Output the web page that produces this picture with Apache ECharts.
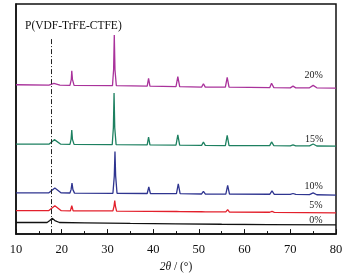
<!DOCTYPE html>
<html><head><meta charset="utf-8">
<script src="https://cdn.jsdelivr.net/npm/echarts@6/dist/echarts.min.js"></script>
<style>html,body{margin:0;padding:0;background:#fff}#c{width:352px;height:278px}</style>
</head><body><div id="c"></div>
<script>
// 2θ (degrees) vs. stacked intensity (offset, arbitrary units)
const xTicks = [10, 20, 30, 40, 50, 60, 70, 80];
const seriesNames = ['20%', '15%', '10%', '5%', '0%'];
const s20 = [[10,154.5],[17.2,154],[18.3,155.8],[19.6,154],[21.8,153.8],[22.1,160],[22.2,169],[22.35,160],[22.7,153.8],[31.1,153.5],[31.35,170],[31.5,206],[31.65,170],[31.95,153.5],[38.7,153],[39.0,161],[39.3,153],[45.0,152.5],[45.4,163],[45.8,152.5],[50.6,152],[51.0,155.5],[51.4,152],[55.8,152],[56.2,162],[56.6,152],[65.5,151.5],[65.9,156],[66.4,151.5],[70.0,151.3],[70.6,153],[71.2,151.3],[74.2,151.3],[75.0,153.8],[75.8,151.3],[80,151]];
const s15 = [[10,93],[17.2,93],[18.4,97.7],[19.8,93],[21.8,92.8],[22.05,98],[22.2,107.7],[22.35,98],[22.7,92.8],[31.05,92.5],[31.3,110],[31.45,146],[31.6,110],[31.9,92.5],[38.7,92.3],[39.0,100.3],[39.3,92.3],[45.0,92],[45.4,102.7],[45.8,92],[50.6,91.8],[51.0,95.3],[51.4,91.8],[55.8,91.6],[56.2,102],[56.6,91.6],[65.5,91.5],[65.9,95.3],[66.4,91.5],[70.0,91.3],[70.6,92.3],[71.2,91.3],[74.2,91.2],[75.0,93.2],[75.8,91.1],[80,91]];
const s10 = [[10,42.7],[17.2,42.7],[18.5,47.7],[19.9,42.6],[21.8,42.5],[22.05,46],[22.25,52.7],[22.45,46],[22.8,42.4],[31.2,42.2],[31.5,60],[31.65,85.3],[31.8,60],[32.1,42.2],[38.7,42],[39.05,48.7],[39.4,42],[45.1,41.8],[45.5,52],[45.9,41.8],[50.6,41.5],[51.0,44.3],[51.4,41.5],[55.9,41.4],[56.3,50.3],[56.7,41.4],[65.5,41.2],[66.0,44.7],[66.5,41.2],[70.0,41],[70.6,42],[71.2,41],[74.2,40.8],[75.0,42.6],[75.8,40.7],[80,40.4]];
const s5 = [[10,24.3],[17.2,24.3],[18.5,29.3],[19.9,24.2],[21.9,24.1],[22.2,29.3],[22.5,24.1],[31.2,24],[31.45,29],[31.6,34.7],[31.75,29],[32.0,23.8],[38.8,23.6],[39.05,25.6],[39.3,23.5],[45.1,23.4],[45.5,25.4],[45.9,23.3],[50.6,23.1],[51.0,23.8],[51.4,23],[55.9,22.9],[56.3,25.3],[56.7,22.8],[65.5,22.6],[66.0,23.6],[66.5,22.5],[80,22]];
const s0 = [[10,12],[16.8,12],[17.4,14],[17.9,16.3],[18.5,14],[19.5,12],[25,11.6],[35,11],[45,10.6],[55,10.2],[65,9.9],[80,9.5]];
const labelPos = [[75.1,164],[75.2,98],[75.1,49.3],[75.6,29.3],[75.6,14.7]];
const refLine = 17.8;
const titleText = 'P(VDF-TrFE-CTFE)';

const colors = ['#a9329b', '#1d8060', '#2f3590', '#e3202c', '#111111'];
const serif = '"Liberation Serif","DejaVu Serif",serif';
const allData = [s20, s15, s10, s5, s0];

const chart = echarts.init(document.getElementById('c'), null, {renderer: 'canvas'});
const series = allData.map((d, i) => ({
  name: seriesNames[i], type: 'line', data: d, symbol: 'none', smooth: false,
  lineStyle: {color: colors[i], width: 1.3}, itemStyle: {color: colors[i]},
  silent: true, animation: false,
  markPoint: {
    symbol: 'circle', symbolSize: 0,
    data: [{coord: labelPos[i], value: seriesNames[i]}],
    label: {show: true, position: 'inside', formatter: seriesNames[i], color: '#222', fontFamily: serif, fontSize: 10}
  },
  markLine: i === 4 ? {
    symbol: 'none', silent: true, label: {show: false},
    lineStyle: {color: '#222', width: 1, type: [5, 2, 1, 2]},
    data: [[{coord: [refLine, 0]}, {coord: [refLine, 202]}]]
  } : undefined
}));

chart.setOption({
  animation: false,
  backgroundColor: '#fff',
  title: {text: titleText, left: 20, top: 15, textStyle: {fontFamily: serif, fontSize: 11.5, fontWeight: 'normal', color: '#111'}},
  grid: {left: 16, right: 16, top: 4, bottom: 36, show: true, borderColor: '#111', borderWidth: 1.5, backgroundColor: 'transparent'},
  xAxis: {
    type: 'value', min: 10, max: 80, interval: 10,
    axisLine: {show: true, lineStyle: {color: '#111', width: 1.5}},
    axisTick: {show: true, inside: true, length: 5, lineStyle: {color: '#111', width: 1}},
    minorTick: {show: true, splitNumber: 2, length: 3, lineStyle: {color: '#111', width: 1}},
    splitLine: {show: false},
    axisLabel: {margin: 9, fontFamily: serif, fontSize: 12.5, color: '#111', formatter: v => xTicks.includes(v) ? String(v) : ''},
    name: '{i|2θ} / (°)', nameLocation: 'middle', nameGap: 26,
    nameTextStyle: {fontFamily: serif, fontSize: 11.5, color: '#111', rich: {i: {fontStyle: 'italic', fontFamily: serif, fontSize: 11.5, color: '#111'}}}
  },
  yAxis: {
    type: 'value', min: 0, max: 238,
    axisLine: {show: true, lineStyle: {color: '#111', width: 1.5}},
    axisTick: {show: false}, axisLabel: {show: false}, splitLine: {show: false}
  },
  series: series
});
</script></body></html>
